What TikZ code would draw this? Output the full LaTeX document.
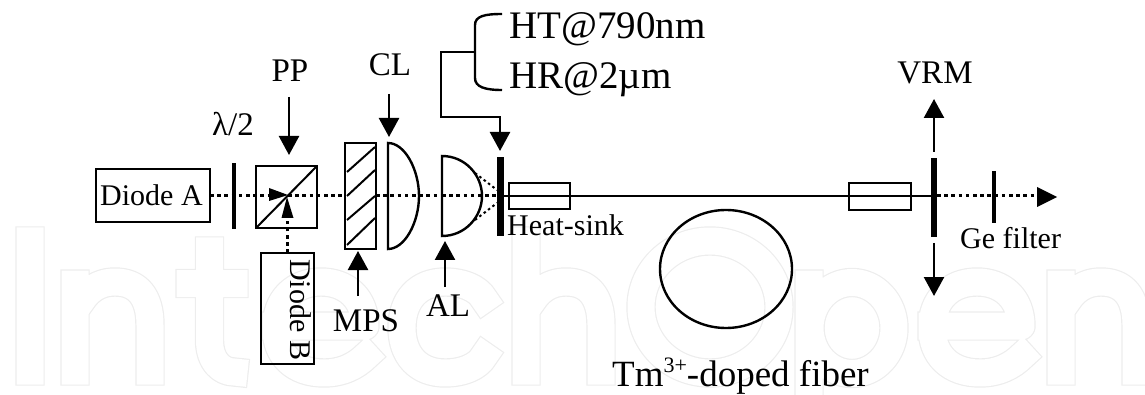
\documentclass[tikz,border=0pt]{standalone}
\usepackage{fontspec}
\setmainfont{Liberation Serif}
\usetikzlibrary{arrows.meta}
\tikzset{
  x=1pt,y=-1pt,
  line/.style={draw=black,line width=2.4pt},
  beam/.style={draw=black,line width=3pt,dash pattern=on 3.6pt off 3.6pt},
  thin beam/.style={draw=black,line width=2pt,dash pattern=on 2.5pt off 3pt},
  bar/.style={fill=black,draw=none},
  point/.style={-{Triangle[length=19pt,width=20pt]},line width=2.4pt},
  lab/.style={inner sep=0pt,font=\fontsize{33}{36}\selectfont,anchor=base},
  labsm/.style={inner sep=0pt,font=\fontsize{30}{33}\selectfont,anchor=base west},
  lablg/.style={inner sep=0pt,font=\fontsize{39}{42}\selectfont,anchor=base west},
  wmouter/.style={draw=black!7,line width=29.4pt,line cap=rect,line join=round},
  wminner/.style={draw=white,line width=27pt,line cap=rect,line join=round},
}
\newcommand{\wmshapes}{
  (30,241) -- (30,371)
  (75,284) -- (75,371)
  (82,300) .. controls (92,285) and (105,282) .. (115,282) .. controls (138,282) and (150,297) .. (150,325) -- (150,371)
  (209.5,251) -- (209.5,340) .. controls (209.5,362) and (222,372) .. (234,372)
  (190,283.5) -- (234,283.5)
  (276,326) -- (365,326) .. controls (365,298) and (346,282) .. (321,282) .. controls (294,282) and (276,300) .. (276,328) .. controls (276,355) and (294,373) .. (324,373) .. controls (342,373) and (356,366) .. (366,356)
  (484,299) .. controls (478,288) and (462,282) .. (445,282) .. controls (418,282) and (402,300) .. (402,328) .. controls (402,355) and (418,373) .. (445,373) .. controls (462,373) and (478,367) .. (484,356)
  (526,241) -- (526,371)
  (533,300) .. controls (543,285) and (556,282) .. (566,282) .. controls (589,282) and (601,297) .. (601,325) -- (601,371)
  (710,307) ellipse (69 and 66)
  (809,284) -- (809,400)
  (852,328) ellipse (42 and 45.5)
  (932,326) -- (1021,326) .. controls (1021,298) and (1002,282) .. (977,282) .. controls (950,282) and (932,300) .. (932,328) .. controls (932,355) and (950,373) .. (980,373) .. controls (998,373) and (1012,366) .. (1022,356)
  (1061,284) -- (1061,371)
  (1068,300) .. controls (1078,285) and (1091,282) .. (1101,282) .. controls (1124,282) and (1136,297) .. (1136,325) -- (1136,371)
}
\begin{document}
\begin{tikzpicture}
\useasboundingbox (0,0) rectangle (1145,395);
% faint background mark
\begin{scope}
\clip (0,0) rectangle (1145,395);
\path[wmouter] \wmshapes;
\path[wminner] \wmshapes;
\end{scope}
% optical axis
\coordinate (axisA) at (210,195.5);
\coordinate (tipA) at (288,195.5);
\draw[line] (96,169) rectangle (210,222);
\node[labsm] (diodeAtext) at (100,206) {Diode A};
\draw[line] (261,253) rectangle (314,364);
\node[labsm,rotate=-90] (diodeBtext) at (290,259) {Diode B};
\node[bar,minimum width=4.5pt,minimum height=66pt,inner sep=0pt] (hwp) at (234,196) {};
\node[lab] (hwplabel) at (233,136) {λ/2};
\draw[beam] (axisA) -- (269,195.5);
\draw[line] (256,166) rectangle (317,228);
\draw[line width=2pt] (256,228) -- (317,166);
\draw[beam] (288,196) -- (345,196);
\fill (269,188) -- (288,195) -- (269,201) -- cycle;
\draw[beam] (287,253) -- (287,218);
\fill (281.5,218) -- (287,197) -- (293.5,218) -- cycle;
\node[lab] (pplabel) at (290,82) {PP};
\coordinate (ppA) at (289,97);
\coordinate (ppB) at (289,155);
\draw[point] (ppA) -- (ppB);
% MPS
\draw[line] (345,143) rectangle (376,249);
\draw[line width=2pt] (347,172) -- (375,147);
\draw[line width=2pt] (347,196) -- (375,170);
\draw[line width=2pt] (347,220) -- (375,196);
\draw[line width=2pt] (347,245) -- (375,218);
\draw[beam] (376,196) -- (442,196);
\node[lab] (mpslabel) at (366,331) {MPS};
\coordinate (mpsA) at (358,296);
\coordinate (mpsB) at (358,251);
\draw[point] (mpsA) -- (mpsB);
% CL
\draw[line] (388,143) .. controls (405,143) and (419,170) .. (419,196) .. controls (419,222) and (405,249) .. (388,249) -- cycle;
\node[lab] (cllabel) at (390,76) {CL};
\coordinate (clA) at (389,94);
\coordinate (clB) at (389,137);
\draw[point] (clA) -- (clB);
% AL
\draw[line] (442,156) .. controls (465,156) and (482,175) .. (482,196) .. controls (482,217) and (465,236) .. (442,236) -- cycle;
\draw[beam] (442,196) -- (497,196);
\draw[thin beam] (475,173) -- (497,190);
\draw[thin beam] (475,220) -- (497,203);
\node[lab] (allabel) at (448,316) {AL};
\coordinate (alA) at (445,287);
\coordinate (alB) at (445,241);
\draw[point] (alA) -- (alB);
% input mirror
\node[bar,minimum width=7pt,minimum height=79pt,inner sep=0pt] (m1) at (500.5,197) {};
\node[labsm] (hs) at (507,236) {Heat-sink};
% bracket
\draw[line] (502,14) .. controls (485,14) and (475,16) .. (475,25) -- (475,78) .. controls (475,87) and (485,90) .. (502,90);
\coordinate (brA) at (475,52);
\coordinate (brC) at (500,151);
\draw[point] (brA) -| (441,117) -| (brC);
\node[lablg] (ht) at (509,39) {HT@790nm};
\node[lablg] (hr) at (509,89) {HR@2µm};
% fibre
\draw[line] (504,196) -- (931,196);
\draw[line] (509,183) rectangle (570,209);
\draw[line] (849,183) rectangle (911,210);
\draw[line] (726,269) ellipse (66 and 59);
\node[inner sep=0pt,anchor=base west,font=\fontsize{37}{40}\selectfont] (tm) at (612,386) {Tm\raisebox{14pt}{\fontsize{22}{24}\selectfont 3+}-doped fiber};
% output
\node[bar,minimum width=6pt,minimum height=79pt,inner sep=0pt] (vrm) at (934,197.5) {};
\draw[beam] (937,196) -- (1037,196);
\fill (1037,187) -- (1057,197) -- (1037,207) -- cycle;
\node[bar,minimum width=4.5pt,minimum height=52pt,inner sep=0pt] (ge) at (994,197) {};
\node[labsm] (gelab) at (960,248) {Ge filter};
\node[lab] (vrmlab) at (935,84) {VRM};
\coordinate (vA) at (934,152);
\coordinate (vB) at (934,99);
\coordinate (vC) at (934,243);
\coordinate (vD) at (934,296);
\draw[point] (vA) -- (vB);
\draw[point] (vC) -- (vD);
\end{tikzpicture}
\end{document}
